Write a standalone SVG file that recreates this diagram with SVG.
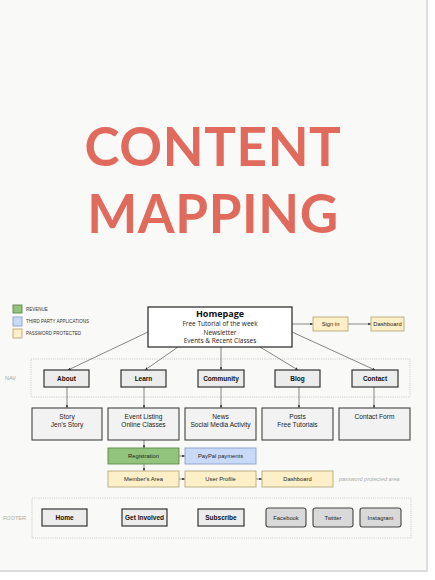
<svg xmlns="http://www.w3.org/2000/svg" width="435" height="580" viewBox="0 0 435 580">
<defs>
<marker id="ah" viewBox="0 0 6 6" refX="6" refY="3" markerWidth="4" markerHeight="4" orient="auto">
<path d="M0,0 L6,3 L0,6 z" fill="#333"/>
</marker>
<style>
.title{font-family:Lato,"Open Sans",sans-serif;font-weight:700;font-size:53px;fill:#e06a5c;text-anchor:middle;letter-spacing:0.6px}
.nav rect{fill:#ececec;stroke:#333;stroke-width:1.2}
.nav text{font-family:"Liberation Sans",Arial,sans-serif;font-weight:700;font-size:6.5px;fill:#111;text-anchor:middle}
.cont rect{fill:#f2f2f2;stroke:#444;stroke-width:1.1}
.cont text{font-family:"Liberation Sans",Arial,sans-serif;font-size:6.6px;fill:#222;text-anchor:middle}
.sm text{font-family:"Liberation Sans",Arial,sans-serif;font-size:5.8px;fill:#222;text-anchor:middle}
.soc rect{fill:#d9d9d9;stroke:#444;stroke-width:1.1}
.soc text{font-family:"Liberation Sans",Arial,sans-serif;font-size:5.8px;fill:#222;text-anchor:middle}
.leg{font-family:"Liberation Sans",Arial,sans-serif;font-size:4.5px;fill:#333}
.area{fill:none;stroke:#bbb;stroke-width:0.8;stroke-dasharray:1,1.2}
.lbl{font-family:"Liberation Sans",Arial,sans-serif;font-size:5.5px;fill:#aaa}
.conn line{stroke:#555;stroke-width:0.7;marker-end:url(#ah)}
.yel{fill:#fdf0c9;stroke:#b8a878;stroke-width:0.9}
.grn{fill:#93c47d;stroke:#5e8a4c;stroke-width:0.9}
.blu{fill:#c9daf8;stroke:#8aa0c8;stroke-width:0.9}
</style>
</defs>
<rect x="0" y="0" width="435" height="580" fill="#ffffff"/>
<rect x="0" y="0" width="428" height="572" fill="#dcdcdc"/>
<rect x="0" y="0" width="426" height="570" fill="#f9f9f7"/>

<text class="title" x="213" y="166">CONTENT</text>
<text class="title" x="213" y="233">MAPPING</text>

<g id="legend">
<rect x="13" y="305" width="9" height="8" class="grn"/>
<text class="leg" x="26" y="311">REVENUE</text>
<rect x="13" y="317" width="9" height="9" class="blu"/>
<text class="leg" x="26" y="323">THIRD PARTY APPLICATIONS</text>
<rect x="13" y="329" width="9" height="9" class="yel"/>
<text class="leg" x="26" y="335">PASSWORD PROTECTED</text>
</g>

<rect class="area" x="31" y="359" width="379" height="38"/>
<text class="lbl" x="5" y="380">NAV</text>
<rect class="area" x="32" y="498" width="379" height="40"/>
<text class="lbl" x="3" y="520">FOOTER</text>
<text class="lbl" x="339" y="481" font-style="italic">password protected area</text>

<g class="conn">
<line x1="148" y1="332" x2="68" y2="370"/>
<line x1="178" y1="347" x2="145" y2="370"/>
<line x1="221" y1="347" x2="221" y2="370"/>
<line x1="260" y1="347" x2="298" y2="370"/>
<line x1="292" y1="332" x2="375" y2="370"/>
<line x1="292" y1="324" x2="313" y2="324"/>
<line x1="348" y1="324" x2="371" y2="324"/>
<line x1="67" y1="387" x2="67" y2="408"/>
<line x1="144" y1="387" x2="144" y2="408"/>
<line x1="221" y1="387" x2="221" y2="408"/>
<line x1="299" y1="387" x2="299" y2="408"/>
<line x1="374" y1="387" x2="374" y2="408"/>
<line x1="144" y1="440" x2="144" y2="448"/>
<line x1="144" y1="464" x2="144" y2="471"/>
<line x1="179" y1="456" x2="185" y2="456"/>
<line x1="179" y1="479" x2="185" y2="479"/>
<line x1="256" y1="479" x2="262" y2="479"/>
</g>

<g id="homepage">
<rect x="148" y="307" width="144" height="40" fill="#fff" stroke="#222" stroke-width="1.2"/>
<text x="220" y="317" font-family="'Open Sans',sans-serif" font-weight="700" font-size="9" text-anchor="middle" fill="#111">Homepage</text>
<text x="220" y="326" font-family="'Open Sans',sans-serif" font-size="6.5" text-anchor="middle" fill="#222">Free Tutorial of the week</text>
<text x="220" y="334.5" font-family="'Open Sans',sans-serif" font-size="6.5" text-anchor="middle" fill="#222">Newsletter</text>
<text x="220" y="343" font-family="'Open Sans',sans-serif" font-size="6.5" text-anchor="middle" fill="#222">Events &amp; Recent Classes</text>
</g>

<g id="signin" class="sm"><rect x="313" y="317" width="35" height="14" class="yel"/><text x="330.5" y="326">Sign in</text></g>
<g id="dashboard-top" class="sm"><rect x="371" y="317" width="33" height="14" class="yel"/><text x="387.5" y="326">Dashboard</text></g>

<g id="nav-about" class="nav"><rect x="44" y="370" width="45" height="17"/><text x="66.5" y="380.5">About</text></g>
<g id="nav-learn" class="nav"><rect x="121" y="370" width="45" height="17"/><text x="143.5" y="380.5">Learn</text></g>
<g id="nav-community" class="nav"><rect x="198" y="370" width="46" height="17"/><text x="221" y="380.5">Community</text></g>
<g id="nav-blog" class="nav"><rect x="275" y="370" width="45" height="17"/><text x="297.5" y="380.5">Blog</text></g>
<g id="nav-contact" class="nav"><rect x="352" y="370" width="46" height="17"/><text x="375" y="380.5">Contact</text></g>

<g id="c-story" class="cont"><rect x="32" y="408" width="70" height="32"/><text x="67" y="419">Story</text><text x="67" y="427">Jen's Story</text></g>
<g id="c-event" class="cont"><rect x="108" y="408" width="71" height="32"/><text x="143.5" y="419">Event Listing</text><text x="143.5" y="427">Online Classes</text></g>
<g id="c-news" class="cont"><rect x="185" y="408" width="71" height="32"/><text x="220.5" y="419">News</text><text x="220.5" y="426.5" font-size="5.8">Social Media Activity</text></g>
<g id="c-posts" class="cont"><rect x="262" y="408" width="71" height="32"/><text x="297.5" y="419">Posts</text><text x="297.5" y="427">Free Tutorials</text></g>
<g id="c-contact" class="cont"><rect x="339" y="408" width="71" height="32"/><text x="374.5" y="419">Contact Form</text></g>

<g id="registration" class="sm"><rect x="108" y="448" width="71" height="16" class="grn"/><text x="143.5" y="458">Registration</text></g>
<g id="paypal" class="sm"><rect x="185" y="448" width="71" height="16" class="blu"/><text x="220.5" y="458">PayPal payments</text></g>
<g id="members" class="sm"><rect x="108" y="471" width="71" height="16" class="yel"/><text x="143.5" y="481">Member's Area</text></g>
<g id="profile" class="sm"><rect x="185" y="471" width="71" height="16" class="yel"/><text x="220.5" y="481">User Profile</text></g>
<g id="dashboard" class="sm"><rect x="262" y="471" width="71" height="16" class="yel"/><text x="297.5" y="481">Dashboard</text></g>

<g id="f-home" class="nav"><rect x="42" y="509" width="45" height="17"/><text x="64.5" y="519.5">Home</text></g>
<g id="f-involved" class="nav"><rect x="122" y="509" width="45" height="17"/><text x="144.5" y="519.5">Get Involved</text></g>
<g id="f-subscribe" class="nav"><rect x="198" y="509" width="46" height="17"/><text x="221" y="519.5">Subscribe</text></g>
<g id="f-facebook" class="soc"><rect x="266" y="508" width="40" height="19" rx="2.5"/><text x="286" y="519.5">Facebook</text></g>
<g id="f-twitter" class="soc"><rect x="313" y="508" width="40" height="19" rx="2.5"/><text x="333" y="519.5">Twitter</text></g>
<g id="f-instagram" class="soc"><rect x="360" y="508" width="41" height="19" rx="2.5"/><text x="380.5" y="519.5">Instagram</text></g>
</svg>
